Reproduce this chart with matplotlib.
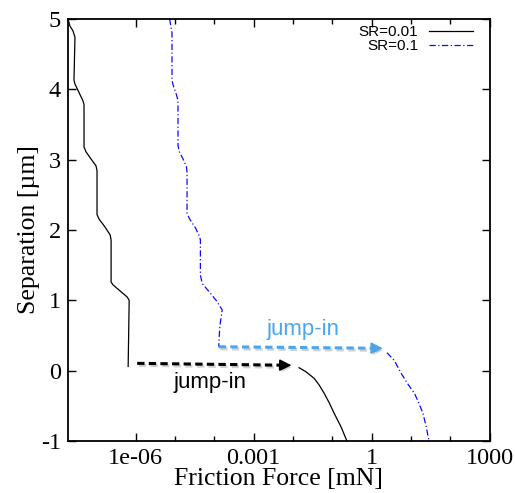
import math
import matplotlib
matplotlib.use("Agg")
import matplotlib.pyplot as plt
import matplotlib.patheffects as pe
from matplotlib.ticker import FixedLocator, NullFormatter

plt.rcParams["axes.unicode_minus"] = False

# Separation vs friction force, two slip ratios
sr001_upper_force = [1.90e-8, 2.13e-8, 2.55e-8, 2.86e-8, 2.70e-8, 2.86e-8, 3.62e-8, 4.58e-8,
                     4.86e-8, 4.86e-8, 5.46e-8, 7.32e-8, 9.83e-8, 1.04e-7, 1.04e-7,
                     1.17e-7, 1.67e-7, 2.24e-7, 2.37e-7, 2.37e-7, 2.67e-7, 4.02e-7,
                     6.07e-7, 6.83e-7, 6.43e-7]
sr001_upper_sep = [5.0, 4.90, 4.83, 4.74, 4.13, 4.075, 3.955, 3.835,
                   3.78, 3.18, 3.11, 3.01, 2.91, 2.84, 2.22,
                   2.156, 2.04, 1.93, 1.86, 1.26, 1.218, 1.133,
                   1.047, 1.0, 0.06]
sr001_lower_force = [0.0142, 0.0211, 0.0344, 0.046, 0.0618, 0.0828, 0.111, 0.165, 0.234]
sr001_lower_sep = [0.042, -0.015, -0.109, -0.204, -0.322, -0.456, -0.607, -0.797, -1.0]

sr01_upper_force = [7.28e-6, 8.37e-6, 8.37e-6, 9.06e-6, 1.05e-5, 1.18e-5, 1.19e-5, 1.19e-5,
                    1.29e-5, 1.63e-5, 1.94e-5, 2.02e-5, 2.02e-5, 2.32e-5, 3.3e-5, 4.17e-5,
                    4.41e-5, 4.41e-5, 4.89e-5, 7.94e-5, 1.18e-4, 1.58e-4, 1.37e-4, 1.29e-4]
sr01_upper_sep = [5.0, 4.80, 4.13, 4.05, 3.95, 3.85, 3.78, 3.20,
                  3.11, 3.0, 2.9, 2.82, 2.24, 2.16, 2.03, 1.91,
                  1.86, 1.36, 1.24, 1.10, 0.98, 0.862, 0.625, 0.34]
sr01_lower_force = [2.45, 3.77, 5.59, 8.59, 12.2, 15.8, 20.0, 24.3, 28.4]
sr01_lower_sep = [0.255, 0.142, -0.038, -0.204, -0.322, -0.464, -0.607, -0.797, -1.0]

# jump-in arrows: (start force, start sep) -> (end force, end sep)
jump_black = [(1.09e-6, 0.104), (0.0091, 0.076)]
jump_blue = [(1.29e-4, 0.34), (1.91, 0.318)]

x_major = [1e-6, 1e-3, 1, 1000]
x_major_labels = ["1e-06", "0.001", "1", "1000"]
x_minor = [1e-5, 1e-4, 1e-2, 1e-1, 10, 100]
y_major = [-1, 0, 1, 2, 3, 4, 5]

BLUE = "#0a0aff"
LIGHT_BLUE = "#4ba6ee"
SERIF = ["Liberation Serif", "DejaVu Serif"]
SANS = ["Liberation Sans", "DejaVu Sans"]

fig = plt.figure(figsize=(5.15, 4.93), dpi=100)
ax = fig.add_axes([0.132, 0.1055, 0.819, 0.856])

ax.plot(sr001_upper_force, sr001_upper_sep, color="black", lw=0.9, label="SR=0.01")
ax.plot(sr001_lower_force, sr001_lower_sep, color="black", lw=0.9)
dash_dot = (0, (5, 2, 1, 2))
ax.plot(sr01_upper_force, sr01_upper_sep, color=BLUE, lw=0.9, ls=dash_dot, label="SR=0.1")
ax.plot(sr01_lower_force, sr01_lower_sep, color=BLUE, lw=0.9, ls=dash_dot)

shadow = [pe.SimpleLineShadow(offset=(1.2, -1.5), shadow_color="gray", alpha=0.35), pe.Normal()]
patch_shadow = [pe.SimplePatchShadow(offset=(1.2, -1.5), shadow_rgbFace="gray", alpha=0.35), pe.Normal()]


def jump_arrow(seg, color):
    (x0, y0), (x1, y1) = seg
    # dashed shaft ends a bit short of the tip, solid head on top
    frac = 0.15 / math.log10(x1 / x0)
    xm = x1 / 10 ** 0.15
    ym = y1 + (y0 - y1) * frac
    ax.plot([x0, xm], [y0, ym], color=color, lw=2.2, ls=(0, (2.4, 1.4)),
            path_effects=shadow, dash_capstyle="butt")
    ax.annotate("", xy=(x1, y1), xytext=(xm, ym),
                arrowprops=dict(arrowstyle="-|>,head_length=0.7,head_width=0.35",
                                color=color, lw=1.2, shrinkA=0, shrinkB=0,
                                path_effects=patch_shadow))


jump_arrow(jump_black, "black")
jump_arrow(jump_blue, LIGHT_BLUE)

ax.text(7.9e-5, -0.25, "jump-in", color="black", fontsize=16, family=SANS,
        ha="center", va="baseline")
ax.text(0.0174, 0.51, "jump-in", color=LIGHT_BLUE, fontsize=16, family=SANS,
        ha="center", va="baseline")

ax.set_xscale("log")
ax.set_xlim(1.9e-8, 1000)
ax.set_ylim(-1, 5)
ax.xaxis.set_major_locator(FixedLocator(x_major))
ax.set_xticklabels(x_major_labels)
ax.xaxis.set_minor_locator(FixedLocator(x_minor))
ax.xaxis.set_minor_formatter(NullFormatter())
ax.yaxis.set_major_locator(FixedLocator(y_major))
ax.yaxis.set_minor_locator(FixedLocator([]))

ax.tick_params(which="both", direction="in", top=True, right=True, width=1.0)
ax.tick_params(which="major", length=6, pad=5)
ax.tick_params(which="minor", length=3.5)
for lab in ax.get_xticklabels() + ax.get_yticklabels():
    lab.set_family(SERIF)
    lab.set_fontsize(17.5)
for sp in ax.spines.values():
    sp.set_linewidth(1.3)

ax.set_xlabel("Friction Force [mN]", family=SERIF, fontsize=18.5, labelpad=-1)
ax.set_ylabel("Separation [µm]", family=SERIF, fontsize=18.5, labelpad=1)

leg = ax.legend(loc="upper right", bbox_to_anchor=(0.975, 1.0), frameon=False,
                markerfirst=False, prop={"family": SANS, "size": 11},
                handlelength=2.9, handletextpad=0.7, labelspacing=0.0,
                borderaxespad=0.2, borderpad=0.2)

fig.savefig("out.png", dpi=100)
